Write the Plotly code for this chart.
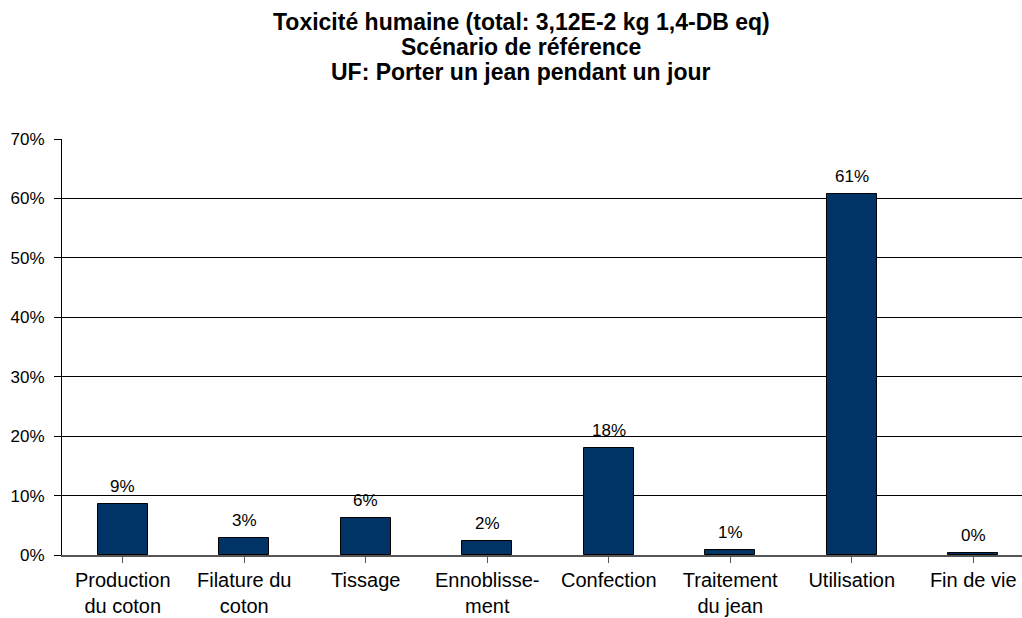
import plotly.graph_objects as go

# Life-cycle stages and their share of the human toxicity impact (%)
categories = [
    "Production<br>du coton",
    "Filature du<br>coton",
    "Tissage",
    "Ennoblisse-<br>ment",
    "Confection",
    "Traitement<br>du jean",
    "Utilisation",
    "Fin de vie",
]
shares = [8.6, 2.8, 6.3, 2.4, 18.0, 0.8, 60.7, 0.4]

title_lines = [
    "Toxicité humaine (total: 3,12E-2 kg 1,4-DB eq)",
    "Scénario de référence",
    "UF: Porter un jean pendant un jour",
]
y_ticks = [0, 10, 20, 30, 40, 50, 60, 70]

W, H = 1022, 618
M_L, M_R, M_T, M_B = 62, 0, 139, 63
plot_h = H - M_T - M_B
font_family = "Liberation Sans, Arial, sans-serif"

fig = go.Figure(
    go.Bar(
        x=list(range(len(categories))),
        y=shares,
        width=0.41,
        marker=dict(color="#003366", line=dict(color="#000000", width=1)),
        hoverinfo="skip",
    )
)

# Value labels above each bar
for i, v in enumerate(shares):
    fig.add_annotation(
        x=i, y=v, xref="x", yref="y",
        text=f"{v:.0f}%", showarrow=False,
        yanchor="bottom", yshift=6,
        font=dict(family=font_family, size=17, color="#000000"),
    )

# Three-line bold title
title_centers_px = [22, 47, 72]
for line, cy in zip(title_lines, title_centers_px):
    fig.add_annotation(
        x=(521 - M_L) / (W - M_L - M_R), xref="paper",
        y=1 + (M_T - cy) / plot_h, yref="paper",
        text=f"<b>{line}</b>", showarrow=False,
        xanchor="center", yanchor="middle",
        font=dict(family=font_family, size=23, color="#000000"),
    )

fig.update_layout(
    width=W, height=H,
    margin=dict(l=M_L, r=M_R, t=M_T, b=M_B, pad=0),
    paper_bgcolor="white", plot_bgcolor="white",
    showlegend=False,
    bargap=0,
    font=dict(family=font_family, color="#000000"),
)

fig.update_xaxes(
    range=[-0.5, -0.5 + (W - M_L - M_R) / 121.5],
    tickmode="array",
    tickvals=list(range(len(categories))),
    ticktext=categories,
    ticks="outside", ticklen=6, tickcolor="#555555", tickwidth=1,
    showgrid=False,
    showline=True, linecolor="#555555", linewidth=2,
    tickfont=dict(family=font_family, size=20, color="#000000"),
    zeroline=False,
)
# place tick marks on category boundaries
fig.update_xaxes(tickson="boundaries")

fig.update_yaxes(
    range=[0, 70],
    tickmode="array",
    tickvals=y_ticks,
    ticktext=[f"{t}%" for t in y_ticks],
    ticks="outside", ticklen=7, tickcolor="#000000", tickwidth=1,
    showgrid=True, gridcolor="#000000", gridwidth=1,
    showline=True, linecolor="#000000", linewidth=1,
    zeroline=False,
    ticklabelstandoff=6,
    tickfont=dict(family=font_family, size=17, color="#000000"),
)

fig.write_html("out.html")
